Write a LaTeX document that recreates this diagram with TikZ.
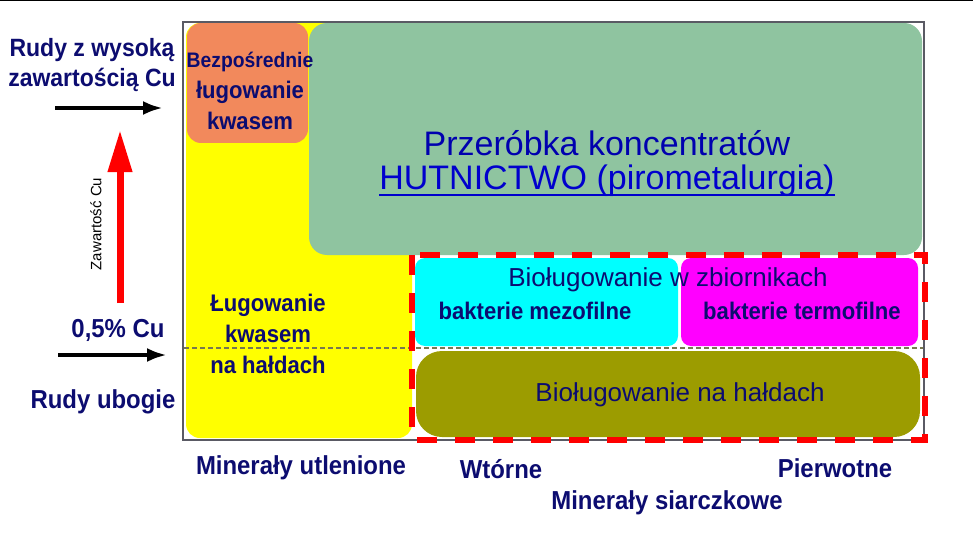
\documentclass[tikz,border=0pt]{standalone}
\usepackage{fontspec}
\usepackage{xcolor}
\setmainfont{Liberation Sans}
\newfontfamily\narrowsans[FakeStretch=0.92]{Liberation Sans}
\usetikzlibrary{arrows.meta}

\definecolor{navytext}{RGB}{12,12,112}
\definecolor{titleblue}{RGB}{0,0,175}
\definecolor{linkblue}{RGB}{0,0,205}
\definecolor{yellowfill}{RGB}{255,255,0}
\definecolor{orangefill}{RGB}{242,137,92}
\definecolor{greenfill}{RGB}{143,196,160}
\definecolor{cyanfill}{RGB}{0,255,255}
\definecolor{magentafill}{RGB}{255,0,255}
\definecolor{olivefill}{RGB}{156,156,0}
\definecolor{framegray}{RGB}{90,90,100}
\definecolor{splitgray}{RGB}{120,120,80}
\definecolor{arrowred}{RGB}{255,0,0}

\newcommand{\pxsize}[2]{\fontsize{#1}{#2}\selectfont}

\begin{document}
\begin{tikzpicture}[
  x=1pt, y=-1pt,
  panel/.style = {rounded corners=#1},
  sidelabel/.style = {font=\narrowsans\bfseries\pxsize{26}{30}, text=navytext, align=center},
  boxlabel/.style = {font=\narrowsans\bfseries\pxsize{24}{31}, text=navytext, align=center},
  biglabel/.style = {font=\pxsize{26}{30}, text=navytext},
  flow/.style = {line width=4.5pt, -{Latex[length=20pt,width=14pt]}}
]
\useasboundingbox (0,0) rectangle (973,540);
\draw[line width=1.5pt] (0,0.75) -- (973,0.75);

% coloured fields
\fill[yellowfill, panel=14pt] (186,23) rectangle (412,438);
\fill[orangefill, panel=14pt] (187,23) rectangle (308,143);
\fill[greenfill, panel=18pt] (309,23) rectangle (922,255);
\draw[splitgray, dash pattern=on 5pt off 3pt, line width=1.3pt] (184,348) -- (924,348);
\fill[cyanfill, panel=10pt] (415,258) rectangle (678,346);
\fill[magentafill, panel=10pt] (681,258) rectangle (918,346);
\fill[olivefill, panel=26pt] (416,351) rectangle (920,437);
\draw[framegray, line width=1.2pt] (183,22) rectangle (924,440);
\draw[arrowred, line width=6pt, dash pattern=on 20pt off 18pt] (412,255) rectangle (925,440);

% texts in fields
\node[boxlabel] (direct) at (250,91)
  {{\pxsize{21}{31}Bezpośrednie}\\ługowanie\\kwasem};
\node[boxlabel] (heap) at (268,334)
  {Ługowanie\\kwasem\\na hałdach};
\node[font=\pxsize{34}{38}, text=titleblue] (concentr) at (607,143) {Przeróbka koncentratów};
\node[font=\pxsize{34}{38}, text=linkblue, inner sep=0pt] (smelt) at (607,181) {HUTNICTWO (pirometalurgia)};
\draw[linkblue, line width=2pt] ([yshift=-5pt]smelt.base west) -- ([yshift=-5pt]smelt.base east);
\node[biglabel] (tank) at (668,280) {Bioługowanie w zbiornikach};
\node[boxlabel] (meso) at (535,311) {bakterie mezofilne};
\node[boxlabel] (thermo) at (802,311) {bakterie termofilne};
\node[biglabel] (bioheap) at (680,395) {Bioługowanie na hałdach};

% left side
\node[sidelabel, font=\narrowsans\bfseries\pxsize{25}{30}] (rich) at (92,65) {Rudy z wysoką\\zawartością Cu};
\coordinate (richA) at (55,108);
\coordinate (richB) at (163,108);
\draw[flow] (richA) -- (richB);
\coordinate (gradeA) at (120,303);
\coordinate (gradeB) at (120,130);
\draw[arrowred, line width=7pt, -{Triangle[length=42pt,width=23pt]}] (gradeA) -- (gradeB);
\node[font=\pxsize{15}{18}, rotate=90] (grade) at (96,224) {Zawartość Cu};
\node[sidelabel] (limit) at (118,330) {0,5\% Cu};
\coordinate (poorA) at (58,355);
\coordinate (poorB) at (167,355);
\draw[flow] (poorA) -- (poorB);
\node[sidelabel] (poor) at (103,402) {Rudy ubogie};

% bottom axis
\node[sidelabel] (oxid) at (301,468) {Minerały utlenione};
\node[sidelabel] (second) at (501,469) {Wtórne};
\node[sidelabel] (primary) at (835,468) {Pierwotne};
\node[sidelabel] (sulph) at (667,503) {Minerały siarczkowe};
\end{tikzpicture}
\end{document}
